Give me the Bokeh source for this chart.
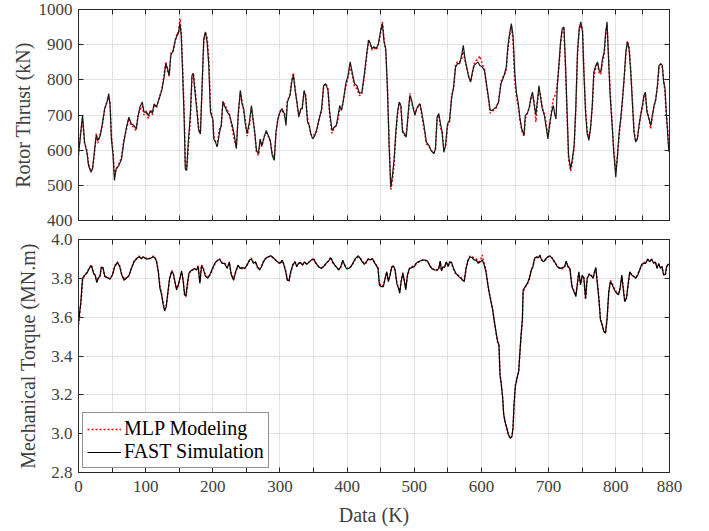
from bokeh.plotting import figure
from bokeh.models import (Range1d, FixedTicker, LinearAxis, Legend, LegendItem,
                          CustomJSTickFormatter, NumeralTickFormatter)
from bokeh.layouts import column
from bokeh.embed import file_html
from bokeh.resources import INLINE

# ---------------- data ----------------
x_ticks = [0, 50, 100, 150, 200, 250, 300, 350, 400, 450, 500, 550, 600, 650,
           700, 750, 800, 840, 880]
thrust_ticks = [400, 500, 600, 700, 800, 900, 1000]
torque_ticks = [2.8, 3.0, 3.2, 3.4, 3.6, 3.8, 4.0]

thrust_x = [
    0, 2.5, 6, 9, 12.5, 15, 18.5, 21, 23.5, 26.5,
    29, 32.5, 35, 39, 42.5, 45, 47, 49, 51.5, 53.5,
    56, 60, 64, 67.5, 71, 75, 78.5, 82.5, 86, 88.5,
    91.5, 95, 97.5, 101, 104, 107.5, 110, 112.5, 116, 120,
    124, 127.5, 130, 132.5, 135, 137.5, 141, 144, 147, 149,
    151, 153, 155, 157.5, 159, 161, 163.5, 166.5, 169, 171,
    173.5, 176.5, 179, 181.5, 184, 186.5, 189, 191.5, 194, 196.5,
    200, 201.5, 204, 206.5, 210, 212.5, 215, 221.5, 225, 229,
    232, 235, 238, 241, 243.5, 246, 248, 251, 254.5, 257.5,
    260, 262.5, 265, 268, 270.5, 273, 276.5, 279.5, 282.5, 285.5,
    288.5, 291.5, 294, 297, 300, 303, 306.5, 309, 311, 315,
    317.5, 320, 323, 326, 328, 331, 333, 336, 338, 341,
    343.5, 346, 348.5, 352, 355, 358, 362, 365, 368, 371.5,
    374, 377.5, 380.5, 384, 386.5, 389, 391.5, 394, 398, 401.5,
    404.5, 407.5, 411, 414.5, 418.5, 422, 426, 429.5, 432, 434.5,
    437, 440, 443.5, 446.5, 450, 452.5, 455, 457.5, 460, 462.5,
    465, 467.5, 470, 472.5, 475, 477.5, 480, 482.5, 485.5, 488,
    491, 493.5, 496, 498.5, 501, 503.5, 506, 508.5, 511, 514.5,
    518, 522, 525, 529, 531.5, 534, 536.5, 539, 541.5, 544,
    546.5, 549.5, 552.5, 555.5, 558.5, 561.5, 564.5, 567.5, 570.5, 573,
    575.5, 579, 581, 584, 586.5, 589, 592, 595, 597.5, 601,
    604.5, 607, 610, 613, 616, 619, 622, 625.5, 629, 632,
    634.5, 637, 639.5, 642, 644.5, 647, 649.5, 652, 655, 657.4,
    660, 663.4, 665.3, 668.3, 671.3, 673.8, 676, 678.7, 681, 683.7,
    685.6, 688, 690.6, 693.6, 696, 699, 702, 704.5, 707, 709.4,
    711, 713, 715.3, 717.8, 720.3, 722.8, 725.2, 727.7, 729.7, 732.7,
    735, 738, 740.6, 743, 745.5, 748, 750.5, 752.5, 755, 757.4,
    760, 762.4, 765, 767.3, 770.3, 772.8, 775.2, 777.7, 780.2, 782.7,
    785, 787, 789, 791.6, 794.6, 797, 800, 802.5, 805, 807.4,
    810, 812.4, 815, 817.3, 819.8, 822.3, 824.7, 827.2, 829.7, 832.2,
    834.6, 837, 839.6, 842, 844, 846.5, 849.5, 852, 854.5, 857,
    859.4, 862, 864.4, 867, 869.3, 871.3, 873.3, 875.2, 877.2, 878.7,
    880,
]
thrust_fast = [
    590, 632, 699, 623, 594, 556, 537, 547, 594, 642,
    628, 642, 670, 718, 737, 761, 727, 632, 585, 514,
    547, 556, 575, 623, 661, 694, 675, 670, 661, 694,
    723, 737, 708, 708, 699, 713, 704, 732, 723, 746,
    770, 808, 846, 832, 813, 870, 884, 913, 927, 936,
    960, 927, 822, 680, 547, 542, 623, 699, 813, 818,
    765, 708, 656, 646, 784, 917, 936, 908, 841, 708,
    689, 632, 623, 609, 651, 670, 737, 708, 699, 670,
    642, 604, 708, 770, 732, 718, 680, 647, 680, 727,
    685, 651, 599, 590, 632, 613, 637, 656, 642, 628,
    585, 571, 651, 689, 708, 718, 704, 670, 737, 756,
    794, 813, 765, 727, 694, 718, 718, 770, 756, 680,
    670, 647, 632, 642, 661, 685, 718, 784, 789, 770,
    708, 656, 665, 670, 699, 727, 713, 737, 789, 813,
    851, 822, 789, 784, 761, 765, 822, 879, 913, 903,
    889, 894, 889, 903, 941, 960, 908, 889, 775, 613,
    495, 528, 575, 651, 708, 737, 727, 651, 647, 637,
    708, 756, 742, 718, 699, 718, 727, 732, 708, 670,
    623, 613, 599, 590, 604, 694, 704, 675, 651, 594,
    613, 675, 685, 746, 780, 837, 846, 846, 870, 898,
    860, 827, 808, 794, 822, 841, 846, 851, 841, 837,
    827, 794, 756, 713, 713, 718, 723, 737, 789, 803,
    818, 837, 898, 932, 960, 927, 822, 765, 730, 689,
    661, 642, 699, 704, 723, 751, 765, 727, 700, 746,
    784, 751, 718, 699, 670, 632, 680, 708, 727, 699,
    689, 784, 841, 908, 946, 950, 841, 699, 585, 547,
    571, 613, 727, 879, 946, 965, 936, 822, 708, 647,
    628, 661, 727, 822, 841, 851, 827, 822, 860, 879,
    936, 965, 870, 756, 670, 594, 523, 585, 651, 689,
    746, 803, 879, 908, 889, 822, 737, 651, 623, 632,
    670, 699, 727, 756, 765, 708, 689, 670, 699, 727,
    742, 784, 841, 846, 841, 794, 775, 708, 651, 604,
    594,
]
thrust_mlp = [
    585, 640, 690, 620, 600, 560, 545, 550, 585, 648,
    620, 648, 665, 715, 740, 750, 735, 640, 595, 530,
    545, 560, 580, 630, 655, 690, 670, 665, 655, 700,
    715, 725, 700, 712, 690, 715, 700, 730, 720, 748,
    772, 815, 852, 825, 810, 875, 880, 910, 935, 930,
    975, 935, 840, 700, 560, 545, 610, 690, 810, 820,
    775, 715, 660, 650, 770, 905, 935, 920, 860, 720,
    685, 640, 625, 615, 660, 665, 740, 715, 700, 660,
    630, 610, 700, 765, 740, 710, 690, 640, 670, 720,
    690, 645, 595, 585, 625, 610, 640, 650, 640, 625,
    590, 575, 645, 690, 710, 715, 700, 690, 740, 760,
    800, 820, 770, 720, 700, 712, 720, 765, 760, 690,
    672, 645, 640, 645, 655, 690, 710, 780, 790, 775,
    700, 648, 662, 672, 690, 715, 715, 735, 780, 808,
    840, 815, 780, 775, 755, 762, 815, 875, 915, 900,
    885, 890, 885, 900, 935, 965, 915, 880, 780, 630,
    488, 515, 565, 645, 700, 735, 725, 660, 640, 645,
    700, 762, 735, 720, 705, 715, 725, 730, 700, 660,
    618, 610, 600, 592, 600, 690, 700, 665, 648, 605,
    610, 670, 680, 755, 775, 845, 852, 850, 860, 880,
    855, 825, 810, 795, 818, 845, 855, 858, 868, 845,
    830, 790, 750, 705, 710, 715, 720, 740, 795, 808,
    815, 830, 890, 925, 950, 915, 800, 755, 720, 685,
    655, 640, 690, 705, 720, 745, 760, 735, 680, 745,
    775, 755, 720, 705, 680, 640, 675, 715, 745, 755,
    760, 790, 835, 900, 940, 945, 830, 690, 575, 540,
    560, 605, 720, 870, 940, 955, 945, 830, 720, 655,
    635, 665, 720, 810, 835, 848, 820, 815, 850, 870,
    930, 955, 880, 770, 680, 600, 540, 580, 640, 685,
    740, 800, 870, 910, 895, 830, 745, 655, 625, 635,
    665, 700, 720, 750, 760, 715, 690, 660, 695, 725,
    745, 780, 835, 845, 835, 800, 765, 700, 660, 610,
    590,
]

torque_x = [
    0, 3.5, 6, 8.4, 12.4, 16, 19.3, 22.3, 24.8, 27.2,
    29.7, 32, 34, 36.6, 39, 43, 47, 50.5, 54, 58,
    61.4, 64.4, 67.8, 71.8, 75, 78.7, 82.7, 86.6, 90.6, 93.6,
    96.5, 100, 103.5, 107.4, 111.4, 113.9, 116.3, 118.8, 121.3, 123.8,
    126.2, 128.2, 130.7, 133.2, 135.6, 138.6, 141, 143.6, 146, 148.5,
    151, 153.5, 156, 158, 160, 162, 164.4, 167, 170, 172.8,
    175.7, 178.2, 180.7, 183.2, 185.6, 189, 192.6, 196.5, 200.5, 204,
    207.4, 210.4, 213.9, 217.5, 221.5, 224.5, 227.5, 231, 234, 237.5,
    240.5, 243.5, 247.5, 251, 254.5, 257.5, 260.5, 263.5, 266.5, 269.5,
    272.5, 275.5, 278.5, 282.5, 286.5, 290, 293.5, 296.5, 300, 303.5,
    306, 308.5, 311, 313.5, 316, 319, 322.5, 325, 327.5, 330.5,
    333.5, 336.5, 340, 343.5, 346.5, 350, 353.5, 357.5, 361.5, 365,
    368.5, 372.5, 375.5, 378.5, 381.5, 384.5, 387.5, 390.5, 393.5, 396.5,
    399.5, 402.5, 405.5, 408.5, 412.5, 416.5, 419.5, 422.5, 425.5, 428.5,
    431.5, 434.5, 437.5, 440.5, 446, 448, 451, 454, 456.5, 459,
    461.4, 464, 466.4, 469, 471.4, 474, 476.4, 478.4, 480.3, 483,
    485.3, 487.3, 489.8, 492.8, 496.3, 500, 502.7, 505.7, 508.7, 512.7,
    516.7, 519.7, 522.6, 526, 530, 533.6, 536.6, 538.6, 540.5, 542.5,
    545, 547.5, 550.5, 552.5, 555.5, 558.5, 562, 566, 569.4, 572,
    574.4, 577, 580, 583, 586.3, 589.3, 592.3, 595.3, 598.3, 601.2,
    604.2, 606.7, 609.2, 611.7, 614.2, 616.7, 619.2, 621.6, 624.1, 626.1,
    627.6, 629.6, 631.6, 633.1, 635.6, 637.6, 640, 643, 645.5, 647,
    648.5, 650.5, 653, 655.5, 657, 659, 661, 662, 665.3, 668.3,
    671.3, 674.3, 676.7, 679.2, 682.2, 685, 687, 689.6, 692.6, 695.5,
    699, 702, 705.4, 709, 713, 716.8, 720.8, 723.8, 726.2, 728.7,
    731.7, 734.7, 737.6, 740.6, 742.6, 745, 747.5, 750, 752.5, 755,
    757.4, 760.4, 763.4, 766.3, 768.3, 770.3, 772.3, 774.8, 777.2, 779.7,
    782.2, 784.7, 787.1, 789.6, 792, 795, 798, 801.5, 804, 806.4,
    809, 811, 813.4, 816, 818.3, 820.8, 823.8, 826.7, 829.7, 832.7,
    835.6, 838.6, 841.6, 844.6, 847.5, 850.5, 853.5, 856.4, 859, 861.4,
    864, 866.3, 868.8, 871.3, 873.8, 875.7, 877.7, 880,
]
torque_fast = [
    3.57, 3.68, 3.80, 3.814, 3.826, 3.851, 3.865, 3.826, 3.817, 3.778,
    3.803, 3.81, 3.856, 3.855, 3.81, 3.803, 3.795, 3.817, 3.86, 3.882,
    3.86, 3.817, 3.79, 3.803, 3.814, 3.851, 3.885, 3.903, 3.911, 3.90,
    3.911, 3.90, 3.90, 3.903, 3.911, 3.906, 3.885, 3.834, 3.749, 3.715,
    3.663, 3.632, 3.655, 3.732, 3.80, 3.834, 3.826, 3.783, 3.74, 3.766,
    3.80, 3.838, 3.783, 3.715, 3.711, 3.766, 3.826, 3.838, 3.843, 3.851,
    3.843, 3.86, 3.774, 3.865, 3.851, 3.81, 3.80, 3.826, 3.86, 3.882,
    3.894, 3.897, 3.877, 3.877, 3.851, 3.885, 3.817, 3.79, 3.834, 3.868,
    3.851, 3.855, 3.851, 3.868, 3.894, 3.90, 3.877, 3.885, 3.86, 3.843,
    3.86, 3.885, 3.903, 3.911, 3.916, 3.906, 3.894, 3.885, 3.877, 3.894,
    3.868, 3.834, 3.79, 3.79, 3.834, 3.868, 3.885, 3.86, 3.877, 3.882,
    3.868, 3.885, 3.872, 3.885, 3.894, 3.90, 3.877, 3.86, 3.851, 3.86,
    3.877, 3.889, 3.906, 3.885, 3.868, 3.856, 3.843, 3.86, 3.894, 3.865,
    3.848, 3.851, 3.86, 3.877, 3.903, 3.916, 3.903, 3.885, 3.872, 3.885,
    3.90, 3.894, 3.903, 3.882, 3.851, 3.766, 3.757, 3.757, 3.80, 3.834,
    3.783, 3.817, 3.86, 3.865, 3.843, 3.774, 3.749, 3.723, 3.783, 3.826,
    3.783, 3.74, 3.817, 3.851, 3.855, 3.86, 3.877, 3.885, 3.889, 3.894,
    3.894, 3.889, 3.868, 3.851, 3.843, 3.843, 3.851, 3.889, 3.838, 3.86,
    3.855, 3.885, 3.86, 3.885, 3.882, 3.851, 3.826, 3.81, 3.80, 3.79,
    3.783, 3.851, 3.894, 3.911, 3.906, 3.894, 3.894, 3.877, 3.885, 3.894,
    3.868, 3.834, 3.774, 3.723, 3.68, 3.638, 3.578, 3.526, 3.475, 3.458,
    3.304, 3.253, 3.185, 3.099, 3.056, 3.031, 2.997, 2.976, 2.988, 3.031,
    3.15, 3.244, 3.287, 3.321, 3.407, 3.509, 3.595, 3.74, 3.757, 3.774,
    3.80, 3.843, 3.86, 3.903, 3.911, 3.906, 3.92, 3.894, 3.885, 3.90,
    3.911, 3.916, 3.903, 3.885, 3.86, 3.851, 3.855, 3.86, 3.889, 3.86,
    3.851, 3.757, 3.732, 3.706, 3.766, 3.834, 3.766, 3.817, 3.80, 3.697,
    3.80, 3.82, 3.814, 3.80, 3.834, 3.856, 3.783, 3.697, 3.586, 3.561,
    3.526, 3.518, 3.595, 3.732, 3.783, 3.766, 3.74, 3.723, 3.715, 3.749,
    3.817, 3.749, 3.68, 3.697, 3.766, 3.834, 3.817, 3.81, 3.80, 3.817,
    3.843, 3.872, 3.877, 3.877, 3.90, 3.885, 3.90, 3.877, 3.885, 3.851,
    3.877, 3.851, 3.86, 3.817, 3.82, 3.86, 3.872, 3.872,
]
torque_mlp = [
    3.56, 3.67, 3.79, 3.81, 3.83, 3.855, 3.87, 3.83, 3.81, 3.79,
    3.80, 3.815, 3.86, 3.85, 3.815, 3.80, 3.80, 3.82, 3.865, 3.885,
    3.865, 3.82, 3.795, 3.81, 3.81, 3.85, 3.89, 3.90, 3.915, 3.905,
    3.91, 3.905, 3.90, 3.905, 3.915, 3.905, 3.89, 3.84, 3.76, 3.72,
    3.67, 3.64, 3.66, 3.72, 3.79, 3.84, 3.83, 3.78, 3.75, 3.76,
    3.795, 3.83, 3.79, 3.71, 3.705, 3.76, 3.82, 3.84, 3.845, 3.85,
    3.845, 3.865, 3.78, 3.87, 3.855, 3.815, 3.805, 3.82, 3.855, 3.88,
    3.895, 3.90, 3.88, 3.88, 3.855, 3.88, 3.82, 3.80, 3.83, 3.865,
    3.855, 3.85, 3.85, 3.87, 3.89, 3.905, 3.88, 3.88, 3.855, 3.845,
    3.865, 3.89, 3.90, 3.91, 3.915, 3.905, 3.895, 3.885, 3.875, 3.89,
    3.87, 3.84, 3.795, 3.785, 3.83, 3.87, 3.885, 3.865, 3.875, 3.88,
    3.87, 3.88, 3.875, 3.885, 3.89, 3.905, 3.88, 3.86, 3.855, 3.86,
    3.875, 3.89, 3.91, 3.88, 3.87, 3.855, 3.845, 3.855, 3.89, 3.87,
    3.85, 3.855, 3.86, 3.875, 3.90, 3.91, 3.905, 3.89, 3.875, 3.88,
    3.90, 3.895, 3.90, 3.885, 3.855, 3.775, 3.76, 3.765, 3.795, 3.83,
    3.79, 3.82, 3.855, 3.86, 3.84, 3.78, 3.75, 3.735, 3.78, 3.83,
    3.785, 3.75, 3.81, 3.85, 3.86, 3.865, 3.875, 3.88, 3.89, 3.895,
    3.89, 3.89, 3.87, 3.85, 3.845, 3.84, 3.855, 3.885, 3.84, 3.855,
    3.86, 3.88, 3.865, 3.885, 3.875, 3.845, 3.82, 3.815, 3.805, 3.795,
    3.79, 3.845, 3.89, 3.915, 3.91, 3.905, 3.90, 3.885, 3.89, 3.92,
    3.875, 3.84, 3.78, 3.725, 3.685, 3.64, 3.575, 3.52, 3.47, 3.45,
    3.31, 3.25, 3.18, 3.10, 3.05, 3.03, 2.995, 2.975, 2.985, 3.03,
    3.14, 3.25, 3.28, 3.33, 3.40, 3.50, 3.58, 3.73, 3.755, 3.77,
    3.795, 3.84, 3.865, 3.90, 3.905, 3.91, 3.915, 3.895, 3.89, 3.895,
    3.91, 3.912, 3.905, 3.88, 3.865, 3.85, 3.85, 3.855, 3.88, 3.865,
    3.845, 3.765, 3.74, 3.715, 3.76, 3.83, 3.775, 3.81, 3.805, 3.69,
    3.795, 3.825, 3.815, 3.805, 3.83, 3.85, 3.79, 3.70, 3.59, 3.565,
    3.53, 3.515, 3.59, 3.725, 3.79, 3.77, 3.745, 3.725, 3.72, 3.745,
    3.81, 3.755, 3.685, 3.70, 3.76, 3.83, 3.82, 3.81, 3.805, 3.82,
    3.845, 3.865, 3.88, 3.885, 3.895, 3.89, 3.895, 3.88, 3.885, 3.855,
    3.87, 3.855, 3.86, 3.82, 3.815, 3.855, 3.875, 3.87,
]

# ---------------- styling ----------------
FONT = "Liberation Serif"
AX = "#262626"
TXT = "#404040"
GRID = "#e3e3e3"
TICK_FS = "17px"
LAB_FS = "20px"


def style_axis(ax):
    ax.axis_line_color = AX
    ax.axis_line_width = 1
    ax.major_tick_line_color = AX
    ax.major_tick_in = 5
    ax.major_tick_out = 0
    ax.minor_tick_line_color = None
    ax.major_label_text_font = FONT
    ax.major_label_text_color = TXT
    ax.major_label_text_font_size = TICK_FS
    ax.axis_label_text_font = FONT
    ax.axis_label_text_font_style = "normal"
    ax.axis_label_text_color = TXT
    ax.axis_label_text_font_size = LAB_FS


def hide_labels(ax):
    ax.formatter = CustomJSTickFormatter(code="return '';")
    ax.major_label_standoff = 0
    ax.axis_label_standoff = 0


def make_fig(yr, yticks, frame_h, top, bottom):
    p = figure(frame_width=591, frame_height=frame_h,
               x_range=Range1d(0, 880), y_range=Range1d(*yr),
               output_backend="svg", toolbar_location=None,
               min_border_left=78, min_border_right=40,
               min_border_top=top, min_border_bottom=bottom)
    p.outline_line_color = None
    p.background_fill_color = "white"
    p.border_fill_color = "white"
    bx = p.below[0]
    ly = p.left[0]
    bx.ticker = FixedTicker(ticks=x_ticks)
    ly.ticker = FixedTicker(ticks=yticks)
    style_axis(bx)
    style_axis(ly)
    p.xgrid.ticker = FixedTicker(ticks=x_ticks)
    p.ygrid.ticker = FixedTicker(ticks=yticks)
    for g in (p.xgrid[0], p.ygrid[0]):
        g.grid_line_color = GRID
        g.grid_line_width = 1
    top_ax = LinearAxis(ticker=FixedTicker(ticks=x_ticks))
    right_ax = LinearAxis(ticker=FixedTicker(ticks=yticks))
    style_axis(top_ax)
    style_axis(right_ax)
    hide_labels(top_ax)
    hide_labels(right_ax)
    p.add_layout(top_ax, "above")
    p.add_layout(right_ax, "right")
    return p, bx, ly


# ---------------- top panel: rotor thrust ----------------
p1, bx1, ly1 = make_fig((400, 1000), thrust_ticks, 211, 9, 10)
hide_labels(bx1)
ly1.axis_label = "Rotor Thrust (kN)"
ly1.major_label_standoff = 6
ly1.axis_label_standoff = 2
p1.line(thrust_x, thrust_mlp, line_color="red", line_width=1.5, line_dash="2 2")
p1.line(thrust_x, thrust_fast, line_color="#1a1a1a", line_width=1.2)

# ---------------- bottom panel: mechanical torque ----------------
p2, bx2, ly2 = make_fig((2.8, 4.0), torque_ticks, 233, 9, 55)
bx2.formatter = CustomJSTickFormatter(
    code="return (tick % 100 === 0 || tick === 880) ? tick.toFixed(0) : '';")
bx2.axis_label = "Data (K)"
bx2.major_label_standoff = 8
bx2.axis_label_standoff = 9
ly2.formatter = NumeralTickFormatter(format="0.0")
ly2.axis_label = "Mechanical Torque (MN.m)"
ly2.major_label_standoff = 6
ly2.axis_label_standoff = 9
r_mlp = p2.line(torque_x, torque_mlp, line_color="red", line_width=1.5, line_dash="2 2")
r_fast = p2.line(torque_x, torque_fast, line_color="black", line_width=1.2)

legend = Legend(items=[LegendItem(label="MLP Modeling", renderers=[r_mlp]),
                       LegendItem(label="FAST Simulation", renderers=[r_fast])],
                location="bottom_left", margin=4, padding=4, spacing=0,
                glyph_width=34, glyph_height=22, label_height=22,
                label_standoff=3, label_text_font=FONT,
                label_text_font_size="20px", label_text_color="black",
                border_line_color=AX, border_line_width=1,
                background_fill_color="white", background_fill_alpha=1)
p2.add_layout(legend)

layout = column(p1, p2, spacing=0)
open("out.html", "w").write(file_html(layout, INLINE))
